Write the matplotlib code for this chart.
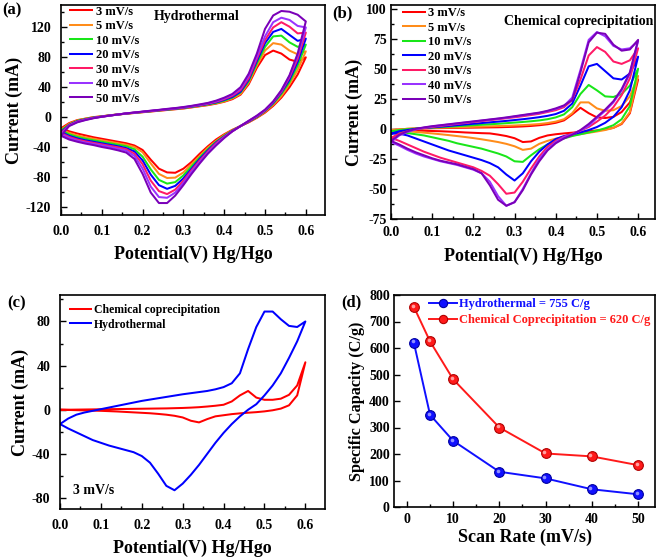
import matplotlib
matplotlib.use('Agg')
import matplotlib.pyplot as plt
from matplotlib.ticker import MultipleLocator
from matplotlib.transforms import offset_copy

plt.rcParams['font.family'] = ['Liberation Serif', 'DejaVu Serif']
plt.rcParams['font.weight'] = 'bold'
plt.rcParams['axes.labelweight'] = 'bold'
plt.rcParams['axes.unicode_minus'] = False

# ---------------- data ----------------
potential = [0.00, 0.02, 0.04, 0.06, 0.08, 0.10, 0.12, 0.14, 0.16, 0.18,
             0.20, 0.22, 0.24, 0.26, 0.28, 0.30, 0.32, 0.34, 0.36, 0.38,
             0.40, 0.42, 0.44, 0.46, 0.48, 0.50, 0.52, 0.54, 0.56, 0.58, 0.60]

scan_labels = ['3 mV/s', '5 mV/s', '10 mV/s', '20 mV/s', '30 mV/s', '40 mV/s', '50 mV/s']
scan_colors = ['#ff0000', '#ff8c1a', '#19e619', '#0000ff', '#ff1a66', '#9933ff', '#7a00b8']

# (a) Hydrothermal - forward (anodic) sweep, 0.0 -> 0.6 V
a_fwd_3 = [-15, -8, -4, -2, 0, 1, 2.5, 3.5, 4.5, 5.5, 6.5, 7.5, 8.5, 9.5, 10.5, 11.5, 13, 14.5, 16, 18,
           20.5, 24, 30, 44, 66, 83, 89, 85, 77, 74, 80]
a_fwd_5 = [-17, -9, -4.5, -2.2, -0.2, 1, 2.5, 3.5, 4.7, 5.7, 6.7, 7.7, 8.7, 9.8, 10.8, 11.8, 13.3, 14.8, 16.5, 18.5,
           21, 25, 31, 46, 69, 89, 99, 97, 89, 84, 88]
a_fwd_10 = [-18, -10, -5, -2.5, -0.5, 0.8, 2.3, 3.5, 4.8, 5.8, 6.8, 7.9, 9, 10, 11, 12.2, 13.7, 15.3, 17, 19,
            22, 26, 33, 48, 72, 94, 108, 109, 100, 94, 97]
a_fwd_20 = [-20, -10.5, -5.5, -3, -0.8, 0.7, 2.2, 3.5, 4.8, 5.9, 7, 8, 9.1, 10.2, 11.3, 12.5, 14, 15.7, 17.5, 19.8,
            23, 27, 34, 50, 75, 99, 114, 118, 110, 102, 105]
a_fwd_30 = [-21.5, -11, -6, -3.3, -1, 0.6, 2.1, 3.5, 4.9, 6, 7.1, 8.2, 9.3, 10.5, 11.6, 12.8, 14.4, 16.1, 18, 20.5,
            24, 28.5, 36, 52, 78, 103, 120, 127, 121, 112, 113]
a_fwd_40 = [-23, -11.5, -6.5, -3.6, -1.2, 0.5, 2, 3.5, 5, 6, 7.2, 8.4, 9.5, 10.7, 11.8, 13.1, 14.7, 16.5, 18.5, 21.2,
            25, 30, 38, 55, 81, 108, 127, 133, 130, 122, 120]
a_fwd_50 = [-25, -12, -7, -4, -1.5, 0.4, 2, 3.5, 5, 6.2, 7.4, 8.6, 9.7, 11, 12.1, 13.5, 15.1, 17, 19, 22,
            26, 31, 40, 58, 85, 118, 136, 142, 141, 137, 128]

# (a) Hydrothermal - reverse (cathodic) sweep, listed at the same potentials
a_rev_3 = [-15, -19, -22, -24.5, -27, -29, -31, -33, -35, -38, -44, -57, -69, -74, -74.5, -69, -60, -49, -39, -30,
           -23, -17, -12, -7, -1, 6, 15, 26, 40, 57, 80]
a_rev_5 = [-17, -21, -24.5, -27, -29, -31, -33, -35, -37, -40, -47, -62, -76, -81.5, -81, -74, -63, -52, -41, -32,
           -24, -17.5, -12, -6.5, -0.5, 7, 16.5, 28, 44, 63, 88]
a_rev_10 = [-18, -23, -26.5, -29, -31, -33, -35, -37, -39, -43, -53, -70, -84, -89, -87, -78, -66, -54, -43, -33,
            -25, -18, -12, -6, 0, 8, 18, 31, 47, 69, 97]
a_rev_20 = [-20, -25, -28.5, -31, -33, -35, -37, -39, -41.5, -46, -58, -77, -91, -96, -92, -82, -69, -56, -44.5, -34,
            -26, -18.5, -12, -6, 0.5, 8.5, 19, 33, 50, 74, 105]
a_rev_30 = [-21.5, -26.5, -30, -32.5, -34.5, -36.5, -38.5, -40.5, -43, -49, -63, -85, -99, -103, -97, -85, -71, -58, -46, -35,
            -26.5, -19, -12, -5.5, 1, 9, 20, 34, 53, 78, 113]
a_rev_40 = [-23, -28, -31.5, -34, -36, -38, -40, -42.5, -45, -52, -69, -93, -107, -108, -101, -88, -73, -60, -47.5, -36.5,
            -27, -19, -12, -5, 1.5, 9.5, 20.5, 35, 55, 82, 120]
a_rev_50 = [-25, -30, -33, -35.5, -37.5, -40, -42, -44.5, -47.5, -56, -76, -101, -115, -115, -105, -91, -76, -62, -49, -38,
            -28, -19, -12, -5, 2, 10, 21, 36, 56, 85, 128]

# (b) Chemical coprecipitation - forward sweep
b_fwd_3 = [-1, -0.5, 0, 0.2, 0.4, 0.5, 0.6, 0.7, 0.8, 0.9, 1, 1.1, 1.2, 1.3, 1.5, 1.7, 2, 2.4, 3, 3.8,
           5, 7, 12, 17.5, 13, 9.5, 9, 10, 14, 22, 41]
b_fwd_5 = [-1, -0.5, 0, 0.3, 0.5, 0.7, 0.9, 1.1, 1.3, 1.5, 1.7, 1.9, 2.1, 2.3, 2.5, 2.8, 3.1, 3.5, 4, 4.8,
           6, 8, 13, 22, 22, 17, 15, 15.5, 19, 27, 44]
b_fwd_10 = [-2, -1, -0.3, 0.2, 0.6, 1, 1.4, 1.8, 2.2, 2.6, 3, 3.4, 3.8, 4.2, 4.7, 5.2, 5.7, 6.3, 7, 8,
            9.5, 12, 18, 29, 36.5, 32, 27, 26.5, 29, 36, 50]
b_fwd_20 = [-4, -2, -1, 0, 0.7, 1.2, 1.8, 2.4, 3, 3.6, 4.2, 4.8, 5.4, 6, 6.6, 7.3, 8, 8.8, 9.7, 10.8,
            12.3, 15, 21, 36, 52, 54, 48, 42, 41, 46, 60]
b_fwd_30 = [-7.5, -4, -2, -0.5, 0.7, 1.6, 2.4, 3.2, 4, 4.8, 5.6, 6.4, 7.2, 8, 8.8, 9.6, 10.5, 11.5, 12.5, 14,
            15.5, 18, 24, 41, 61, 68, 64, 56, 54, 57, 67]
b_fwd_40 = [-11, -5.5, -2.5, -0.5, 1, 2, 2.8, 3.6, 4.4, 5.2, 6, 6.8, 7.6, 8.4, 9.2, 10.2, 11.2, 12.2, 13.2, 14.6,
            16.5, 19, 26, 49, 74, 80.5, 77, 69, 66, 67, 73]
b_fwd_50 = [-10, -5, -2, 0, 1.2, 2.2, 3, 3.8, 4.6, 5.4, 6.2, 7, 7.8, 8.6, 9.5, 10.5, 11.5, 12.5, 13.5, 15,
            17, 19.5, 24, 47, 72, 80, 79, 70, 65, 66, 74]

# (b) Chemical coprecipitation - reverse sweep
b_rev_3 = [-1, -1, -1.2, -1.4, -1.6, -1.8, -2, -2.3, -2.6, -3, -3.3, -3.6, -3.8, -4.8, -6, -7.8, -11, -10.5, -7.5, -5.5,
           -4.5, -3.8, -3.2, -2.6, -2, -1.3, -0.5, 0.8, 4, 13, 41]
b_rev_5 = [-1, -1.5, -2, -2.6, -3.2, -3.8, -4.5, -5.2, -6, -6.8, -7.7, -8.7, -9.8, -11, -12.5, -14.5, -17.5, -16.5, -12.5, -10,
           -8.2, -6.8, -5.5, -4.4, -3.3, -2.2, -1, 0.8, 4.5, 14, 44]
b_rev_10 = [-2, -2.5, -3.5, -4.5, -5.5, -7, -8.5, -10, -12, -13.5, -15, -16.5, -18.5, -20.5, -23, -27, -27.5, -22, -17, -13,
            -10, -8, -6, -4.5, -3, -1.5, 0.5, 3, 8, 19, 50]
b_rev_20 = [-4, -4, -5.5, -8, -10.5, -13, -15.5, -18, -20, -22, -24, -26, -28.5, -32, -38, -43, -37, -27, -19, -13,
            -8.5, -6, -4.5, -3, -1, 1.5, 5, 10, 18, 32, 60]
b_rev_30 = [-7.5, -10, -13, -16, -19, -21.5, -24, -26, -28, -30, -32, -35, -39, -46, -54, -53, -44, -33, -23, -15,
            -10, -6.5, -4, -1.5, 1.5, 6, 11, 18, 28, 42, 67]
b_rev_40 = [-11, -14, -17.5, -20.5, -23, -25, -27, -28.5, -30, -32, -34, -37, -44, -56, -64, -61, -50, -37, -25, -17,
            -11, -7, -4.5, -1.5, 2.5, 9, 15, 22, 32, 46, 73]
b_rev_50 = [-10, -13, -16.5, -19.5, -22, -24.5, -26.5, -28, -29.5, -31.5, -33.5, -37, -47, -59, -64, -61, -51, -38, -27, -18,
            -12, -8, -5, -1, 4, 10, 16, 23, 33, 47, 74]

# (c) comparison at 3 mV/s
c_labels = ['Chemical coprecipitation', 'Hydrothermal']
c_colors = ['#ff0000', '#0000ff']
c_fwd_chem = [0, 0, 0.1, 0.2, 0.3, 0.4, 0.5, 0.6, 0.7, 0.8, 0.9, 1.0, 1.1, 1.2, 1.4, 1.6, 1.9, 2.3, 2.9, 3.6,
              4.5, 7.5, 13, 17, 11, 9, 9, 10, 13.5, 22, 43]
c_rev_chem = [0, -0.2, -0.4, -0.6, -0.8, -1, -1.3, -1.6, -2, -2.4, -2.8, -3.2, -3.8, -4.5, -5.5, -7, -10, -11.5, -8.5, -6,
              -5, -4, -3.3, -2.7, -2.2, -1.5, -0.5, 1, 4, 13, 43]
c_fwd_hydro = [-13, -8, -4.5, -2.5, -1, 0.5, 2, 3.5, 5, 6.5, 8, 9.2, 10.4, 11.6, 12.8, 14, 15, 16, 17, 18.5,
               20.5, 24, 33, 55, 75, 89, 89, 82, 76, 75, 80]
c_rev_hydro = [-13, -17, -20.5, -24, -27.5, -30, -32.5, -34.5, -36.5, -38.5, -42, -48, -58, -69, -73, -67, -59, -50, -40, -30,
               -21, -13, -6, 0, 5, 13, 22, 33, 47, 62, 80]

# (d) specific capacity vs scan rate
scan_rate_hydro = [1.5, 5, 10, 20, 30, 40, 50]
capacity_hydro = [620, 348, 250, 133, 108, 67, 48]
scan_rate_chem = [1.5, 5, 10, 20, 30, 40, 50]
capacity_chem = [755, 625, 482, 300, 202, 191, 158]
d_labels = ['Hydrothermal = 755 C/g', 'Chemical Coprecipitation = 620 C/g']
d_colors = ['#1010ff', '#ff1a1a']
d_edge = ['#0000a0', '#b00000']
d_highlight = ['#9090ff', '#ffa0a0']

a_fwd = [a_fwd_3, a_fwd_5, a_fwd_10, a_fwd_20, a_fwd_30, a_fwd_40, a_fwd_50]
a_rev = [a_rev_3, a_rev_5, a_rev_10, a_rev_20, a_rev_30, a_rev_40, a_rev_50]
b_fwd = [b_fwd_3, b_fwd_5, b_fwd_10, b_fwd_20, b_fwd_30, b_fwd_40, b_fwd_50]
b_rev = [b_rev_3, b_rev_5, b_rev_10, b_rev_20, b_rev_30, b_rev_40, b_rev_50]


def loop(fwd, rev):
    xs = list(potential) + list(potential[::-1])
    ys = list(fwd) + list(rev[::-1])
    return xs, ys


def style(ax, xmaj, xmin, ymaj, ymin, xpad, ypad):
    ax.xaxis.set_major_locator(MultipleLocator(xmaj))
    ax.yaxis.set_major_locator(MultipleLocator(ymaj))
    if xmin:
        ax.xaxis.set_minor_locator(MultipleLocator(xmin))
    if ymin:
        ax.yaxis.set_minor_locator(MultipleLocator(ymin))
    ax.tick_params(which='both', direction='in', top=False, right=False,
                   labelsize=10, width=1.0, colors='black')
    ax.tick_params(which='major', length=4)
    ax.tick_params(which='minor', length=2.5)
    ax.tick_params(axis='x', pad=xpad)
    ax.tick_params(axis='y', pad=ypad)
    for s in ax.spines.values():
        s.set_linewidth(1.2)
    for lab in ax.get_xticklabels() + ax.get_yticklabels():
        lab.set_fontweight('bold')


W, H = 661, 560
fig = plt.figure(figsize=(W / 100, H / 100), dpi=100)


def axes_px(left, top, right, bottom):
    return fig.add_axes([left / W, 1 - bottom / H, (right - left) / W, (bottom - top) / H])


LW = 1.45
leg_kw = dict(frameon=False, fontsize=9, handlelength=1.8, handletextpad=0.25,
              labelspacing=0.2, borderpad=0, borderaxespad=0, loc='upper left')

# ---------- (a) ----------
ax1 = axes_px(61, 5, 325, 215)
for fwd, rev, lab, col in zip(a_fwd, a_rev, scan_labels, scan_colors):
    xs, ys = loop(fwd, rev)
    ax1.plot(xs, ys, color=col, lw=LW, label=lab, solid_joinstyle='round')
ax1.set_xlim(0, 0.647)
ax1.set_ylim(-131, 150)
style(ax1, 0.1, 0.05, 40, 20, 7, 7)
ax1.set_xlabel('Potential(V) Hg/Hgo', fontsize=13, labelpad=6)
ax1.set_ylabel('Current (mA)', fontsize=13, labelpad=2)
ax1.legend(bbox_to_anchor=(0.034, 0.997), **leg_kw)
ax1.text(0.515, 0.943, 'Hydrothermal', transform=ax1.transAxes, ha='center', va='center',
         fontsize=10, fontweight='bold')

# ---------- (b) ----------
ax2 = axes_px(391, 5, 655, 219)
for fwd, rev, lab, col in zip(b_fwd, b_rev, scan_labels, scan_colors):
    xs, ys = loop(fwd, rev)
    ax2.plot(xs, ys, color=col, lw=LW, label=lab, solid_joinstyle='round')
ax2.set_xlim(0, 0.641)
ax2.set_ylim(-75, 103)
style(ax2, 0.1, 0.05, 25, 12.5, 5, 3)
ax2.set_xlabel('Potential(V) Hg/Hgo', fontsize=13, labelpad=6)
ax2.set_ylabel('Current (mA)', fontsize=13, labelpad=2)
ax2.legend(bbox_to_anchor=(0.044, 0.99), **leg_kw)
ax2.text(0.711, 0.922, 'Chemical coprecipitation', transform=ax2.transAxes, ha='center', va='center',
         fontsize=10, fontweight='bold')

# ---------- (c) ----------
ax3 = axes_px(60, 295, 325, 509)
for fwd, rev, lab, col in zip([c_fwd_chem, c_fwd_hydro], [c_rev_chem, c_rev_hydro], c_labels, c_colors):
    xs, ys = loop(fwd, rev)
    ax3.plot(xs, ys, color=col, lw=LW, label=lab, solid_joinstyle='round')
ax3.set_xlim(0, 0.648)
ax3.set_ylim(-90, 104)
style(ax3, 0.1, 0.05, 40, 20, 7, 7)
ax3.set_xlabel('Potential(V) Hg/Hgo', fontsize=13, labelpad=6)
ax3.set_ylabel('Current (mA)', fontsize=13, labelpad=2)
ax3.legend(bbox_to_anchor=(0.038, 0.957), **dict(leg_kw, fontsize=8.5))
ax3.text(0.128, 0.087, '3 mV/s', transform=ax3.transAxes, ha='center', va='center',
         fontsize=10, fontweight='bold')

# ---------- (d) ----------
ax4 = axes_px(394, 295, 655, 507)
hl_tr = offset_copy(ax4.transData, fig=fig, x=-0.9, y=0.9, units='points')
for xs, ys, col, ec, hc, lab in zip([scan_rate_hydro, scan_rate_chem], [capacity_hydro, capacity_chem],
                                    d_colors, d_edge, d_highlight, d_labels):
    ax4.plot(xs, ys, '-o', color=col, lw=1.4, ms=7, mfc=col, mec=ec, mew=0.8, label=lab)
    ax4.plot(xs, ys, 'o', color=hc, ms=2.6, mew=0, transform=hl_tr)
ax4.set_xlim(-2.8, 53.7)
ax4.set_ylim(0, 800)
style(ax4, 10, 5, 100, None, 4, 3)
ax4.set_xlabel('Scan Rate (mV/s)', fontsize=13, labelpad=2)
ax4.set_ylabel('Specific Capacity (C/g)', fontsize=11.7, labelpad=3)
ax4.legend(bbox_to_anchor=(0.135, 0.985), **dict(leg_kw, handlelength=2.2, handletextpad=0.2,
                                                  labelspacing=0.3), labelcolor='linecolor',
           markerscale=0.85)

# panel letters
for txt, x, y in [('(a)', 12, 10), ('(b)', 342, 13), ('(c)', 17, 303), ('(d)', 351, 302)]:
    fig.text(x / W, 1 - y / H, txt, ha='center', va='center', fontsize=12, fontweight='bold')

fig.savefig('out.png', dpi=100)
